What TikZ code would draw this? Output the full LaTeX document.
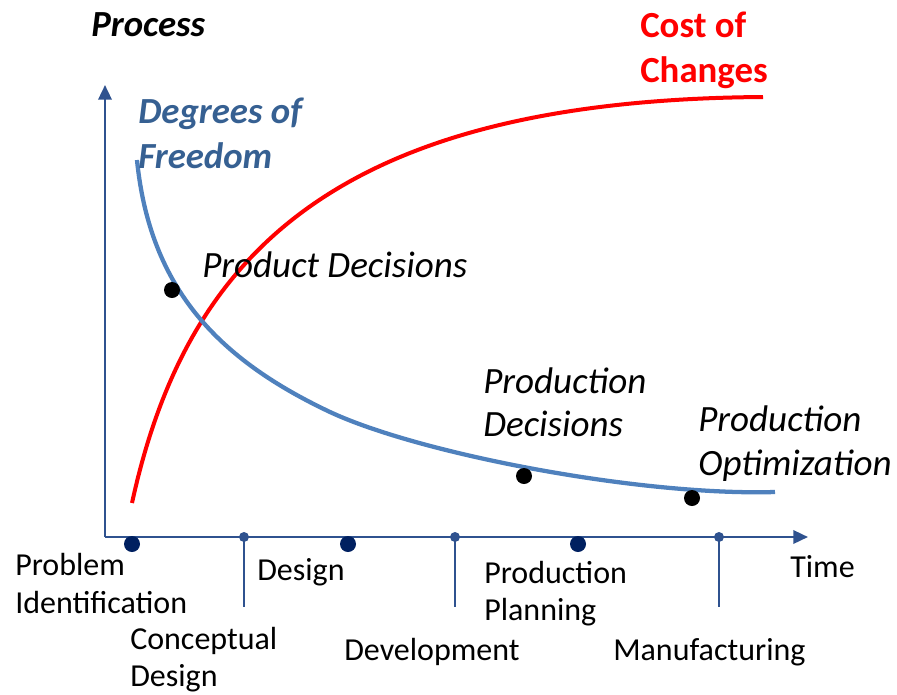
\documentclass[tikz,border=0pt]{standalone}
\usepackage{fontspec}
\setmainfont{Carlito}
\usetikzlibrary{arrows.meta}
\definecolor{axisblue}{RGB}{47,82,143}
\definecolor{navy}{RGB}{0,32,96}
\definecolor{dofblue}{RGB}{79,129,189}
\definecolor{doftext}{RGB}{54,96,146}
\begin{document}
\begin{tikzpicture}[x=0.75pt,y=-0.75pt,
  lbl/.style={anchor=base west,inner sep=0pt,font=\fontsize{24}{28.5}\selectfont},
  emph/.style={anchor=base west,inner sep=0pt,font=\fontsize{27.8}{33}\selectfont\itshape},
  bemph/.style={anchor=base west,inner sep=0pt,font=\fontsize{27.6}{33}\selectfont\bfseries\itshape},
  axisline/.style={draw=axisblue,line width=1.8pt},
  tickline/.style={draw=axisblue,line width=1.6pt},
  smalldot/.style={circle,fill=axisblue,inner sep=0pt,minimum size=7.5pt},
  bigdot/.style={circle,fill=navy,inner sep=0pt,minimum size=12pt},
  blackdot/.style={circle,fill=black,inner sep=0pt,minimum size=12pt}]
\useasboundingbox (0,0) rectangle (897,694);
% axes
\coordinate (origin) at (105,537);
\coordinate (ytip) at (105,85);
\coordinate (xtip) at (808,537);
\draw[axisline,-{Triangle[length=11pt,width=10pt]}] (origin) -- (ytip);
\draw[axisline,-{Triangle[length=11pt,width=10pt]}] (origin) -- (xtip);
% small tick dots with lines
\node[smalldot] (t1) at (244,537) {};
\node[smalldot] (t2) at (455,537) {};
\node[smalldot] (t3) at (719,537) {};
\coordinate (t1b) at (244,607);
\coordinate (t2b) at (455,607);
\coordinate (t3b) at (719,607);
\draw[tickline] (t1.center) -- (t1b);
\draw[tickline] (t2.center) -- (t2b);
\draw[tickline] (t3.center) -- (t3b);
% big dots
\node[bigdot] (b1) at (132,544) {};
\node[bigdot] (b2) at (348,544) {};
\node[bigdot] (b3) at (578,544) {};
% curves
\coordinate (r0) at (132,503);
\coordinate (r1) at (763,97);
\draw[red,line width=3pt] (r0) .. controls (185,260) and (330,100) .. (r1);
\coordinate (f0) at (137,160);
\coordinate (fm) at (330,412);
\coordinate (f1) at (775,492);
\draw[dofblue,line width=3.2pt] (f0) .. controls (150,290) and (220,360) .. (fm)
  .. controls (420,454) and (640,496) .. (f1);
% milestone dots
\node[blackdot] (d1) at (172,290) {};
\node[blackdot] (d2) at (524,476) {};
\node[blackdot] (d3) at (692,498) {};
% titles
\node[bemph] (process) at (91,36) {Process};
\node[bemph,text=doftext] (dof1) at (138,123) {Degrees of};
\node[bemph,text=doftext] (dof2) at (138,168) {Freedom};
\node[anchor=base west,inner sep=0pt,font=\fontsize{27.6}{33}\selectfont\bfseries,text=red] (cost1) at (640,37) {Cost of};
\node[anchor=base west,inner sep=0pt,font=\fontsize{27.6}{33}\selectfont\bfseries,text=red] (cost2) at (640,82) {Changes};
\node[emph] (pd) at (202,277) {Product Decisions};
\node[emph] (prd1) at (483,393) {Production};
\node[emph] (prd2) at (483,436) {Decisions};
\node[emph] (po1) at (698,431) {Production};
\node[emph] (po2) at (698,475) {Optimization};
% phase labels
\node[lbl] (pi1) at (15,575) {Problem};
\node[lbl] (pi2) at (15,613) {Identification};
\node[lbl] (cd1) at (130,649) {Conceptual};
\node[lbl] (cd2) at (130,686) {Design};
\node[lbl] (des) at (257,580) {Design};
\node[lbl] (dev) at (344,660) {Development};
\node[lbl] (pp1) at (484,583) {Production};
\node[lbl] (pp2) at (484,620) {Planning};
\node[lbl] (man) at (613,660) {Manufacturing};
\node[lbl] (time) at (790,577) {Time};
\end{tikzpicture}
\end{document}
